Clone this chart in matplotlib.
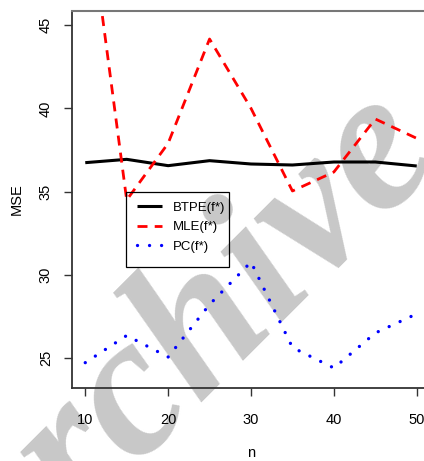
import matplotlib
matplotlib.use("Agg")
import matplotlib.pyplot as plt
from matplotlib.patches import Rectangle

# ---- data ----
n = [10, 15, 20, 25, 30, 35, 40, 45, 50]
btpe = [36.74, 36.94, 36.56, 36.86, 36.66, 36.60, 36.78, 36.78, 36.54]
mle = [53.3, 34.5, 37.9, 44.16, 40.0, 35.04, 36.18, 39.36, 38.2]
pc = [24.74, 26.37, 25.08, 28.23, 30.78, 25.65, 24.42, 26.52, 27.67]
xticks = [10, 20, 30, 40, 50]
yticks = [25, 30, 35, 40, 45]
labels = ["BTPE(f*)", "MLE(f*)", "PC(f*)"]

W, H = 424, 461
fig = plt.figure(figsize=(W / 100, H / 100), dpi=100)
ax = fig.add_axes([72 / W, 1 - 388 / H, (430 - 72) / W, (388 - 11) / H])
plt.rcParams['font.family'] = ['Liberation Sans', 'DejaVu Sans']

def ax_x(px):
    return (px - 72) / 358

def ax_y(py):
    return (388 - py) / 377

l1, = ax.plot(n, btpe, color='black', lw=2.2, solid_capstyle='butt', zorder=3)
l2, = ax.plot(n, mle, color='#ff0000', lw=2.0, dashes=(3.6, 2.6), zorder=3)
l3, = ax.plot(n, pc, color='#0000ff', lw=2.4, dashes=(0.01, 3.6),
              dash_capstyle='round', zorder=3)

ax.set_xlim(8.4, 51.6)
ax.set_ylim(23.22, 45.84)
ax.set_xticks(xticks)
ax.set_xticklabels([str(v) for v in xticks], fontsize=10.5, family='Liberation Sans')
ax.set_yticks(yticks)
ax.set_yticklabels([str(v) for v in yticks], fontsize=10.5, family='Liberation Sans',
                   rotation=90, va='center')
ax.tick_params(axis='both', length=5.8, width=1.0, color='#333333')
ax.tick_params(axis='x', pad=12)
ax.tick_params(axis='y', pad=8)
ax.set_xlabel("n", fontsize=10.5, family='Liberation Sans', labelpad=14)
ax.set_ylabel("MSE", fontsize=10.5, family='Liberation Sans', labelpad=11)

for s in ['left', 'bottom']:
    ax.spines[s].set_color('#333333')
    ax.spines[s].set_linewidth(1.3)
ax.spines['top'].set_color('#777777')
ax.spines['top'].set_linewidth(1.5)
ax.spines['right'].set_color('#777777')

# watermark (partly outside the picture, as in the reference)
ax.text(184 / W, 1 - 362 / H, "Archive", transform=fig.transFigure, rotation=45,
        fontsize=145, family='Liberation Serif', style='italic', weight='bold',
        color='#c8c8c8', ha='center', va='center', zorder=0.5, clip_on=False)

leg = ax.legend([l1, l2, l3], labels, loc='upper left',
                bbox_to_anchor=(ax_x(136.7), ax_y(201.5)),
                frameon=False, handlelength=1.94,
                handletextpad=0.83, labelspacing=0.55, borderpad=0.0,
                borderaxespad=0, prop={'family': 'Liberation Sans', 'size': 9.5})
leg.set_zorder(5)
ax.add_patch(Rectangle((ax_x(126), ax_y(267)), ax_x(229) - ax_x(126),
                       ax_y(192) - ax_y(267), transform=ax.transAxes,
                       fill=False, edgecolor='black', lw=0.9, zorder=5))

fig.savefig("out.png", dpi=100)
